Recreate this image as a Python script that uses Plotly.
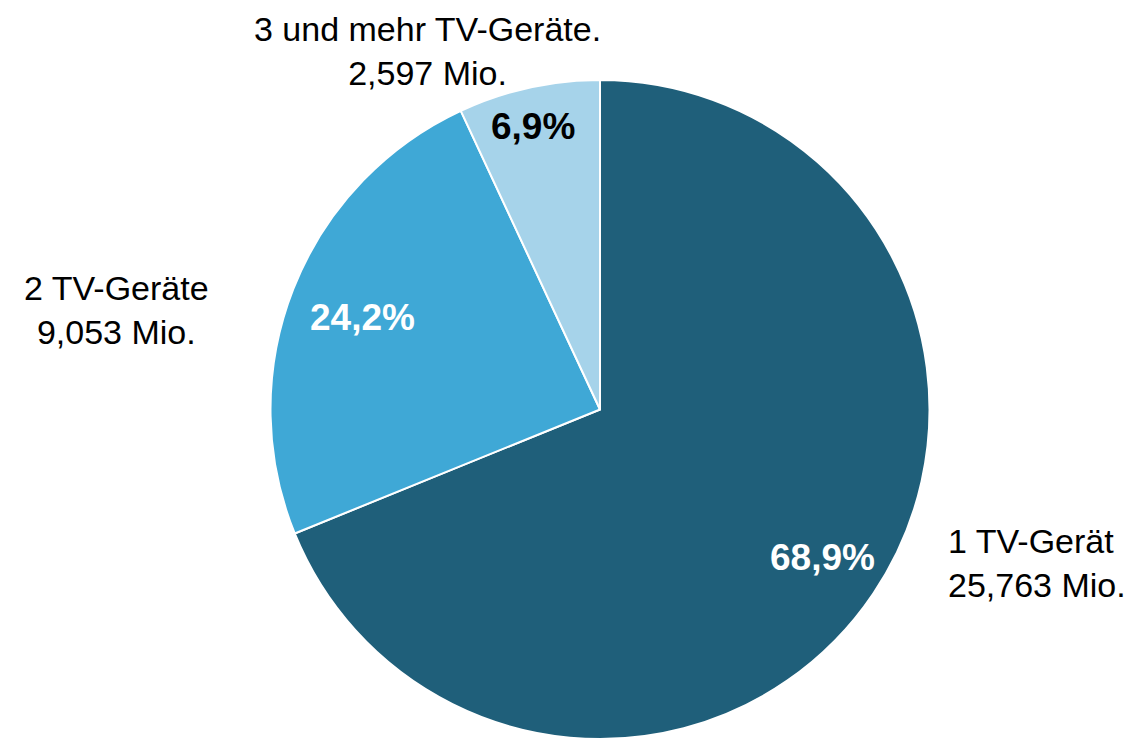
import plotly.graph_objects as go

categories = ["1 TV-Gerät", "2 TV-Geräte", "3 und mehr TV-Geräte."]
values_mio = [25.763, 9.053, 2.597]
colors = ["#1f5f7a", "#3fa8d6", "#a6d3ea"]
pct_font_colors = ["white", "white", "black"]

W, H = 1147, 739
FONT = "Liberation Sans, Arial, sans-serif"

fig = go.Figure(go.Pie(
    labels=categories,
    values=values_mio,
    sort=False,
    direction="clockwise",
    rotation=0,
    marker=dict(colors=colors, line=dict(color="white", width=2)),
    textinfo="none",
    showlegend=False,
    hoverinfo="label+value+percent",
    domain=dict(x=[262 / W, 922 / W], y=[8 / H, 667 / H]),
))

def fmt(v):
    return f"{v:.3f}".replace(".", ",") + " Mio."

total = sum(values_mio)

# outside label positions (pixel anchors) per category
label_pos = [
    dict(px=938, py=555, xanchor="left", yanchor="middle"),
    dict(px=108, py=302, xanchor="center", yanchor="middle"),
    dict(px=419, py=0, xanchor="center", yanchor="top"),
]
# percentage label positions (pixel centres)
pct_pos = [(814, 549), (354, 310), (525, 118)]

for cat, v, p, pp, fc in zip(categories, values_mio, label_pos, pct_pos, pct_font_colors):
    fig.add_annotation(
        x=p["px"] / W, y=1 - p["py"] / H, xref="paper", yref="paper",
        xanchor=p["xanchor"], yanchor=p["yanchor"],
        align="center" if p["xanchor"] == "center" else "left",
        text=f"{cat}<br>{fmt(v)}", showarrow=False,
        font=dict(family=FONT, size=34, color="black"),
    )
    pct = f"{100 * v / total:.1f}".replace(".", ",") + "%"
    fig.add_annotation(
        x=pp[0] / W, y=1 - pp[1] / H, xref="paper", yref="paper",
        xanchor="center", yanchor="middle",
        text=f"<b>{pct}</b>", showarrow=False,
        font=dict(family=FONT, size=37, color=fc),
    )

fig.update_layout(
    width=W, height=H,
    margin=dict(l=0, r=0, t=0, b=0),
    paper_bgcolor="white", plot_bgcolor="white",
    separators=",.",
    font=dict(family=FONT),
)

fig.write_html("out.html")
